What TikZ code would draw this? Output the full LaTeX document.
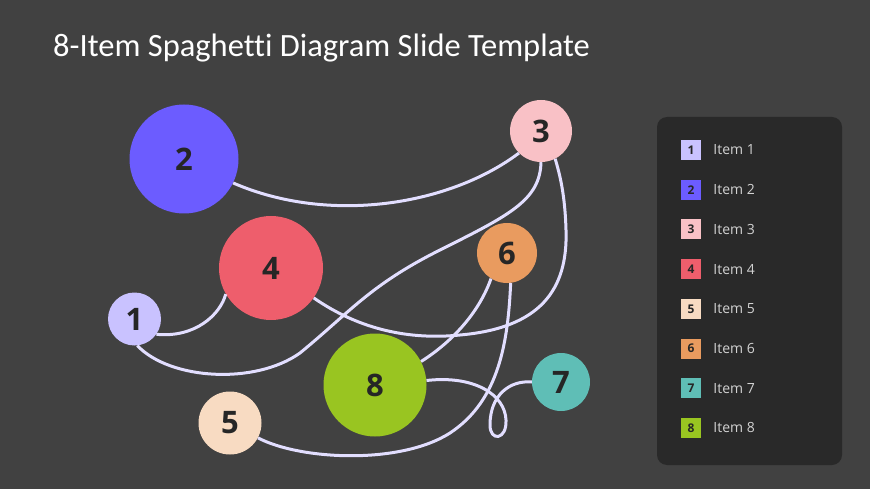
\documentclass[tikz,border=0pt]{standalone}
\usepackage{fontspec}
\setmainfont{Open Sans}
\newfontfamily\titlefont[Ligatures=NoCommon]{Carlito}
\usetikzlibrary{positioning}
\definecolor{bgcol}{HTML}{414141}
\definecolor{panelcol}{HTML}{292929}
\definecolor{wirecol}{HTML}{E2DEFF}
\definecolor{numcol}{HTML}{262626}
\definecolor{itemtxt}{HTML}{D2D2D2}
\definecolor{c1}{HTML}{C9C2FF}
\definecolor{c2}{HTML}{6C5CFF}
\definecolor{c3}{HTML}{F9C1C6}
\definecolor{c4}{HTML}{EE5E6C}
\definecolor{c5}{HTML}{F8DBC2}
\definecolor{c6}{HTML}{E99B5F}
\definecolor{c7}{HTML}{5FBEB6}
\definecolor{c8}{HTML}{99C521}

\begin{document}
\begin{tikzpicture}[x=1pt,y=-1pt,
    item/.style={circle,inner sep=0pt,text=numcol,font=\bfseries\fontsize{31}{31}\selectfont},
    wire/.style={draw=wirecol,line width=3pt},
    keybox/.style={minimum size=20pt,inner sep=0pt,text=numcol,font=\bfseries\fontsize{12}{12}\selectfont},
    keytext/.style={inner sep=0pt,text=itemtxt,font=\fontsize{14}{14}\selectfont}]
  \fill[bgcol] (0,0) rectangle (870,489);
  \useasboundingbox (0,0) rectangle (870,489);

  \node[anchor=base west,inner sep=0pt,text=white,font=\titlefont\fontsize{32.5}{32.5}\selectfont] (title) at (53,57) {8-Item Spaghett\kern0pt i Diagram Slide Template};

  \node[item,fill=c1,minimum size=53pt]  (n1) at (134.5,319) {1};
  \node[item,fill=c2,minimum size=109pt] (n2) at (184,159) {2};
  \node[item,fill=c3,minimum size=62pt]  (n3) at (541,131) {3};
  \node[item,fill=c4,minimum size=104pt] (n4) at (271,268) {4};
  \node[item,fill=c5,minimum size=63pt]  (n5) at (230,423) {5};
  \node[item,fill=c6,minimum size=60pt]  (n6) at (507,253) {6};
  \node[item,fill=c7,minimum size=58pt]  (n7) at (561,382) {7};
  \node[item,fill=c8,minimum size=103pt] (n8) at (375,385) {8};

  \draw[wire] (n2.-26) .. controls (330,225) and (450,205) .. (n3.-135);
  \draw[wire] (n1.-35) .. controls (195,338) and (220,315) .. (n4.-150);
  \draw[wire] (n1.-84) .. controls (170,380) and (255,385) .. (300,353)
     .. controls (350,312) and (370,285) .. (440,250)
     .. controls (510,215) and (540,200) .. (n3.-90);
  \draw[wire] (n4.-35) .. controls (360,330) and (410,340) .. (460,335)
     .. controls (540,328) and (568,290) .. (566,230)
     .. controls (565,195) and (560,175) .. (n3.-63);
  \draw[wire] (n8.27) .. controls (455,340) and (480,310) .. (n6.-122);
  \draw[wire] (n5.-28) .. controls (300,460) and (400,465) .. (450,433)
     .. controls (500,400) and (508,340) .. (n6.-83);
  \draw[wire] (n8.5) .. controls (475,375) and (505,395) .. (506,420)
     .. controls (507,440) and (490,442) .. (490,425)
     .. controls (490,395) and (510,380) .. (n7.180);

  \node[fill=panelcol,rounded corners=10pt,minimum width=185pt,minimum height=348pt] (legend) at (749.5,291) {};
  \foreach \i/\c in {1/c1,2/c2,3/c3,4/c4,5/c5,6/c6,7/c7,8/c8} {
    \node[keybox,fill=\c] (k\i) at (691,150+\i*39.7-39.7) {\i};
    \node[keytext,right=12pt of k\i] (t\i) {Item \i};
  }
\end{tikzpicture}
\end{document}
